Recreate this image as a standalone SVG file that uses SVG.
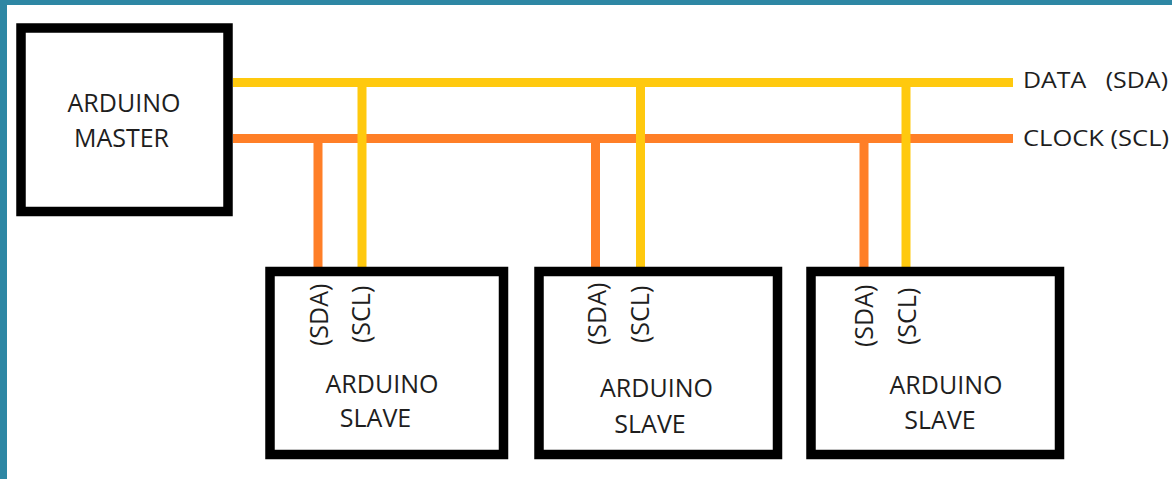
<svg xmlns="http://www.w3.org/2000/svg" width="1172" height="479" viewBox="0 0 1172 479">
<style>
.box{fill:#fff;stroke:#000;stroke-width:9.5}
.t{font-family:"Open Sans","Liberation Sans",sans-serif;font-size:25px;fill:#1e1e1e}
.m{text-anchor:middle}
.s{font-size:21px}
.y{stroke:#FFC90E;stroke-width:9;fill:none}
.o{stroke:#FF7F27;stroke-width:9;fill:none}
</style>
<rect x="0" y="0" width="1172" height="479" fill="#fff"/>
<rect x="0" y="0" width="1172" height="5" fill="#2e87a4"/>
<rect x="0" y="0" width="7" height="479" fill="#2e87a4"/>
<g id="connectors">
<line class="o" x1="233" y1="138.5" x2="1013" y2="138.5"/>
<line class="o" x1="318" y1="138.5" x2="318" y2="267"/>
<line class="o" x1="595.5" y1="138.5" x2="595.5" y2="267"/>
<line class="o" x1="864" y1="138.5" x2="864" y2="267"/>
<line class="y" x1="233" y1="82.5" x2="1013" y2="82.5"/>
<line class="y" x1="362" y1="82.5" x2="362" y2="267"/>
<line class="y" x1="640.5" y1="82.5" x2="640.5" y2="267"/>
<line class="y" x1="906" y1="82.5" x2="906" y2="267"/>
</g>
<g id="bus-labels">
<text class="t s" x="1023" y="88" textLength="145" lengthAdjust="spacingAndGlyphs" xml:space="preserve">DATA   (SDA)</text>
<text class="t s" x="1023" y="146" textLength="146" lengthAdjust="spacingAndGlyphs">CLOCK (SCL)</text>
</g>
<g id="master">
<rect class="box" x="21" y="28" width="207" height="183.5"/>
<text class="t m" x="124" y="112">ARDUINO</text>
<text class="t m" x="121.5" y="147">MASTER</text>
</g>
<g id="slave1">
<rect class="box" x="270" y="271.5" width="233.5" height="183"/>
<text class="t" transform="translate(328,346) rotate(-90)">(SDA)</text>
<text class="t" transform="translate(370,343) rotate(-90)">(SCL)</text>
<text class="t m" x="382" y="393">ARDUINO</text>
<text class="t m" x="375.5" y="427">SLAVE</text>
</g>
<g id="slave2">
<rect class="box" x="539" y="271.5" width="238.5" height="183"/>
<text class="t" transform="translate(606,345) rotate(-90)">(SDA)</text>
<text class="t" transform="translate(649,343) rotate(-90)">(SCL)</text>
<text class="t m" x="656.5" y="397">ARDUINO</text>
<text class="t m" x="650" y="433">SLAVE</text>
</g>
<g id="slave3">
<rect class="box" x="811" y="271.5" width="248.5" height="183"/>
<text class="t" transform="translate(873,347) rotate(-90)">(SDA)</text>
<text class="t" transform="translate(916,345) rotate(-90)">(SCL)</text>
<text class="t m" x="946" y="394">ARDUINO</text>
<text class="t m" x="940" y="429">SLAVE</text>
</g>
</svg>
